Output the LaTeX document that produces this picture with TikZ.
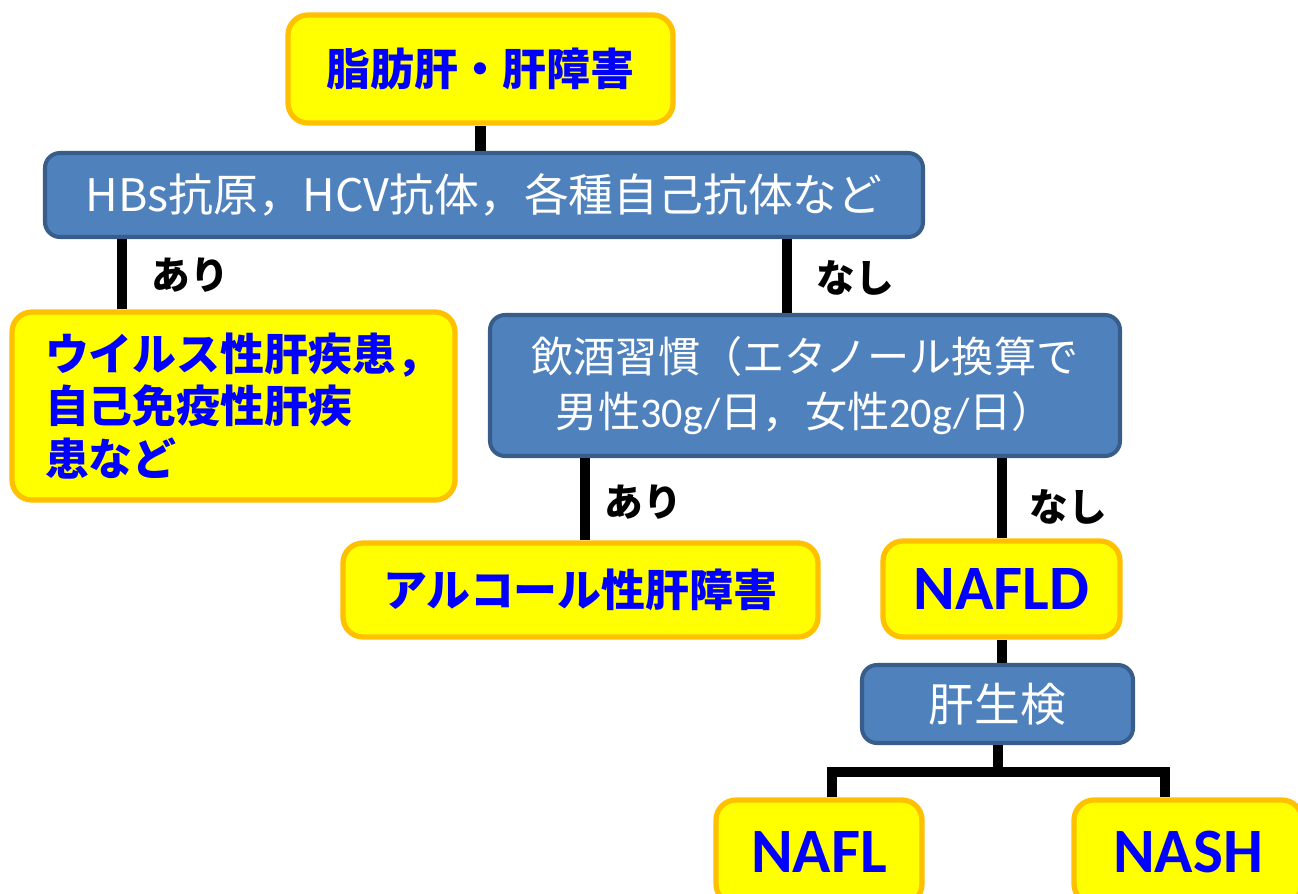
\documentclass[tikz,border=0pt]{standalone}
\usepackage{fontspec}
\setmainfont{Noto Sans CJK JP}
\newfontfamily\lat{Carlito}
\definecolor{boxyellow}{HTML}{FFFF00}
\definecolor{boxorange}{HTML}{FFC000}
\definecolor{boxblue}{HTML}{4F81BD}
\definecolor{boxedge}{HTML}{385D8A}
\definecolor{textblue}{HTML}{0000FF}
\begin{document}
\begin{tikzpicture}[x=0.02cm, y=-0.02cm,
    result/.style={draw=boxorange, line width=3pt, fill=boxyellow, rounded corners=0.4cm,
                   text=textblue, font=\bfseries\fontsize{25}{30}\selectfont},
    test/.style={draw=boxedge, line width=2.3pt, fill=boxblue, rounded corners=0.3cm,
                 text=white, font=\fontsize{24}{31}\selectfont},
    wh/.style 2 args={minimum width=#1*0.02cm, minimum height=#2*0.02cm, inner sep=0pt},
    branch/.style={line width=5.7pt},
    answer/.style={font=\bfseries\fontsize{22}{26}\selectfont}]
      \useasboundingbox (0, 0) rectangle (1298, 893);
      \clip (0, 0) rectangle (1298, 893);
      % boxes
      \node (liver) [result, wh={385}{108}] at (480.5, 69) {脂肪肝・肝障害};
      \node (hbs) [test, wh={878}{84}, font=\fontsize{25.5}{31}\selectfont] at (484, 195)
            {HBs抗原，HCV抗体，各種自己抗体など};
      \node (virus) [result, wh={443}{188}, text width=377*0.02cm, align=left] at (233.5, 406)
            {ウイルス性肝疾患，\\自己免疫性肝疾\\患など};
      \node (drink) [test, wh={630}{141}, align=center] at (805, 385.5)
            {飲酒習慣（エタノール換算で\\男性{\lat 30g/}日，女性{\lat 20g/}日）};
      \node (alc) [result, wh={475}{94}] at (580.5, 590) {アルコール性肝障害};
      \node (nafld) [result, wh={237}{96}, font=\lat\bfseries\fontsize{36}{40}\selectfont] at (1001.5, 589) {NAFLD};
      \node (biopsy) [test, wh={271}{78}, font=\fontsize{26}{30}\selectfont] at (997.5, 704) {肝生検};
      \node (nafl) [result, wh={206}{104}, font=\lat\bfseries\fontsize{36}{40}\selectfont] at (819, 852) {NAFL};
      \node (nash) [result, wh={228}{104}, font=\lat\bfseries\fontsize{36}{40}\selectfont] at (1188, 852) {NASH};
      % labels
      \node (yes1) [answer] at (190, 275) {あり};
      \node (no1) [answer] at (855, 278) {なし};
      \node (yes2) [answer] at (643, 502) {あり};
      \node (no2) [answer] at (1068, 507) {なし};
      % branches
      \coordinate (lx) at (122, 0);
      \coordinate (rx) at (787, 0);
      \coordinate (ax) at (585, 0);
      \coordinate (bar) at (0, 772);
      \coordinate (bl) at (832, 0);
      \coordinate (br) at (1165, 0);
      \draw[branch] (liver.south) -- (hbs.north -| liver)
                    (hbs.south -| lx) -- (virus.north -| lx)
                    (hbs.south -| rx) -- (drink.north -| rx)
                    (drink.south -| ax) -- (alc.north -| ax)
                    (drink.south -| nafld) -- (nafld.north)
                    (nafld.south) -- (biopsy.north -| nafld)
                    (biopsy.south) -- (biopsy |- bar)
                    (nafl.north -| bl) -- (bl |- bar) -- (br |- bar) -- (nash.north -| br);
\end{tikzpicture}
\end{document}
